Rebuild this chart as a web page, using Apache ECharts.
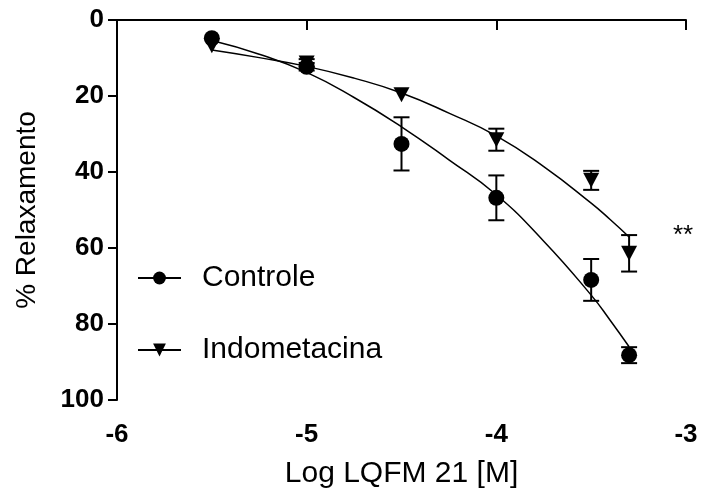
<!DOCTYPE html>
<html>
<head>
<meta charset="utf-8">
<script src="https://cdn.jsdelivr.net/npm/echarts@6/dist/echarts.min.js"></script>
<style>
	html, body { margin: 0; padding: 0; background: #fff; }
	#chart { width: 702px; height: 491px; }
</style>
</head>
<body>
<div id="chart"></div>
<script>
// log concentration of each dose
var doseX = [-5.5, -5, -4.5, -4, -3.5, -3.3];
// mean % relaxation and SEM
var controleY = [4.8, 12.3, 32.6, 46.8, 68.4, 88.2];
var controleSem = [0, 1, 7, 5.9, 5.5, 2.1];
var indoY = [6.8, 11.3, 19.7, 31.5, 42.2, 61.4];
var indoSem = [0, 1, 0, 2.9, 2.5, 4.8];
// fitted curves
var fitX = [-5.5, -5.25, -5, -4.75, -4.5, -4.25, -4, -3.75, -3.5, -3.4, -3.3];
var controleFit = [5.4, 9.0, 13.8, 20.4, 28.1, 36.8, 46, 58.2, 72.4, 79, 86];
var indoFit = [7.9, 9.9, 12.2, 15.3, 19.2, 24.5, 30.5, 38.6, 48.2, 52.5, 57.1];

var xTicks = [-6, -5, -4, -3];
var yTicks = [0, 20, 40, 60, 80, 100];

var font = 'Arial, "Liberation Sans", sans-serif';

function pairs(xs, ys) {
	return xs.map(function(x, i) { return [x, ys[i]]; });
}

function errData(ys, sems) {
	var out = [];
	doseX.forEach(function(x, i) {
		if (sems[i] > 0) out.push([x, ys[i] - sems[i], ys[i] + sems[i]]);
	});
	return out;
}

function renderErr(params, api) {
	var top = api.coord([api.value(0), api.value(1)]);
	var bot = api.coord([api.value(0), api.value(2)]);
	var hw = 8;
	var style = { stroke: '#000', lineWidth: 2 };
	return {
		type: 'group',
		children: [
			{ type: 'line', shape: { x1: top[0], y1: top[1], x2: bot[0], y2: bot[1] }, style: style },
			{ type: 'line', shape: { x1: top[0] - hw, y1: top[1], x2: top[0] + hw, y2: top[1] }, style: style },
			{ type: 'line', shape: { x1: bot[0] - hw, y1: bot[1], x2: bot[0] + hw, y2: bot[1] }, style: style }
		]
	};
}

var myChart = echarts.init(document.getElementById('chart'));
var option = {
	backgroundColor: '#fff',
	animation: false,
	grid: {
		left: 117,
		right: 16,
		top: 20,
		bottom: 91,
		outerBoundsMode: 'none'
	},
	legend: {
		orient: 'vertical',
		left: 132,
		top: 258,
		itemWidth: 43,
		itemHeight: 16,
		itemGap: 42,
		textStyle: {
			fontFamily: font,
			fontSize: 30,
			color: '#000',
			padding: [0, 0, 0, 16]
		},
		data: ['Controle', 'Indometacina']
	},
	xAxis: {
		type: 'value',
		min: xTicks[0],
		max: xTicks[xTicks.length - 1],
		interval: 1,
		name: 'Log LQFM 21 [M]',
		nameLocation: 'middle',
		nameGap: 59,
		nameTextStyle: { fontFamily: font, fontSize: 30, color: '#000' },
		axisLine: { lineStyle: { color: '#000', width: 2 } },
		axisTick: { length: 10, lineStyle: { color: '#000', width: 2 } },
		axisLabel: { fontFamily: font, fontSize: 26, fontWeight: 'bold', color: '#000', margin: 22 },
		splitLine: { show: false }
	},
	yAxis: {
		type: 'value',
		inverse: true,
		min: yTicks[0],
		max: yTicks[yTicks.length - 1],
		interval: 20,
		name: '% Relaxamento',
		nameLocation: 'middle',
		nameGap: 76,
		nameTextStyle: { fontFamily: font, fontSize: 28, color: '#000' },
		axisLine: { show: true, lineStyle: { color: '#000', width: 2 } },
		axisTick: { show: true, length: 9, lineStyle: { color: '#000', width: 2 } },
		axisLabel: { fontFamily: font, fontSize: 26, fontWeight: 'bold', color: '#000', margin: 13 },
		splitLine: { show: false }
	},
	graphic: [{
		type: 'text',
		left: 673,
		top: 223,
		style: { text: '**', font: '26px ' + font, fill: '#000' }
	}],
	series: [{
		name: 'Controle',
		type: 'line',
		smooth: 0.5,
		symbol: 'circle',
		symbolSize: 16,
		showSymbol: false,
		itemStyle: { color: '#000' },
		lineStyle: { color: '#000', width: 1.5 },
		data: pairs(fitX, controleFit),
		z: 2
	}, {
		name: 'Indometacina',
		type: 'line',
		smooth: 0.5,
		symbol: 'triangle',
		symbolRotate: 180,
		symbolSize: 16,
		showSymbol: false,
		itemStyle: { color: '#000' },
		lineStyle: { color: '#000', width: 1.5 },
		data: pairs(fitX, indoFit),
		z: 2
	}, {
		name: 'errC',
		type: 'custom',
		renderItem: renderErr,
		data: errData(controleY, controleSem),
		z: 3
	}, {
		name: 'errI',
		type: 'custom',
		renderItem: renderErr,
		data: errData(indoY, indoSem),
		z: 3
	}, {
		name: 'ptsI',
		type: 'scatter',
		symbol: 'triangle',
		symbolRotate: 180,
		symbolSize: [16, 15],
		itemStyle: { color: '#000', opacity: 1 },
		data: pairs(doseX, indoY),
		z: 4
	}, {
		name: 'ptsC',
		type: 'scatter',
		symbol: 'circle',
		symbolSize: 16,
		itemStyle: { color: '#000', opacity: 1 },
		data: pairs(doseX, controleY),
		z: 5
	}]
};
myChart.setOption(option);
</script>
</body>
</html>
